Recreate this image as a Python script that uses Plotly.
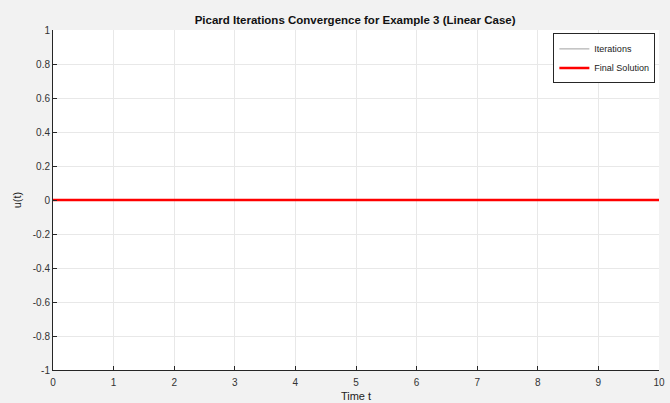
import numpy as np
import plotly.graph_objects as go

# Time grid and Picard iterates for the linear test problem
t = np.linspace(0, 10, 101)
n_iterations = 5
iterates = [[0.0] * len(t) for _ in range(n_iterations)]
final_solution = [0.0] * len(t)

x_ticks = [0, 1, 2, 3, 4, 5, 6, 7, 8, 9, 10]
y_ticks = [-1, -0.8, -0.6, -0.4, -0.2, 0, 0.2, 0.4, 0.6, 0.8, 1]

fig = go.Figure()
for k, u in enumerate(iterates):
    fig.add_trace(go.Scatter(
        x=t, y=u, mode="lines",
        line=dict(color="#a0a0a0", width=1),
        name="Iterations", showlegend=(k == 0), legendgroup="it",
    ))
fig.add_trace(go.Scatter(
    x=t, y=final_solution, mode="lines",
    line=dict(color="#ff0000", width=2.5),
    name="Final Solution",
))

axis_common = dict(
    showline=True, linecolor="#262626", linewidth=1, mirror=False,
    ticks="inside", ticklen=4, tickcolor="#262626",
    showgrid=True, gridcolor="#e8e8e8", gridwidth=1,
    zeroline=False, automargin=False,
    tickfont=dict(family="Liberation Sans, Arial", size=10, color="#333333"),
)

fig.update_layout(
    width=670, height=403,
    margin=dict(l=53, r=11, t=30, b=33),
    paper_bgcolor="#f2f2f2", plot_bgcolor="#ffffff",
    title=dict(
        text="<b>Picard Iterations Convergence for Example 3 (Linear Case)</b>",
        x=0.53, xanchor="center", y=0.95, yanchor="middle",
        font=dict(family="Liberation Sans, Arial", size=11.5, color="#111111"),
    ),
    xaxis=dict(
        range=[0, 10], tickvals=x_ticks, ticklabelstandoff=3,
        title=dict(text="Time t", standoff=5,
                   font=dict(family="Liberation Sans, Arial", size=11, color="#222222")),
        **axis_common,
    ),
    yaxis=dict(
        range=[-1, 1], tickvals=y_ticks,
        ticktext=[("%g" % v) for v in y_ticks],
        title=dict(text="u(t)", standoff=8,
                   font=dict(family="Liberation Sans, Arial", size=11, color="#222222")),
        **axis_common,
    ),
    legend=dict(
        x=0.994, y=0.99, xanchor="right", yanchor="top",
        bgcolor="#ffffff", bordercolor="#262626", borderwidth=1,
        font=dict(family="Liberation Sans, Arial", size=9, color="#222222"),
        itemwidth=30, tracegroupgap=0,
    ),
    showlegend=True,
)

fig.write_html("out.html")
